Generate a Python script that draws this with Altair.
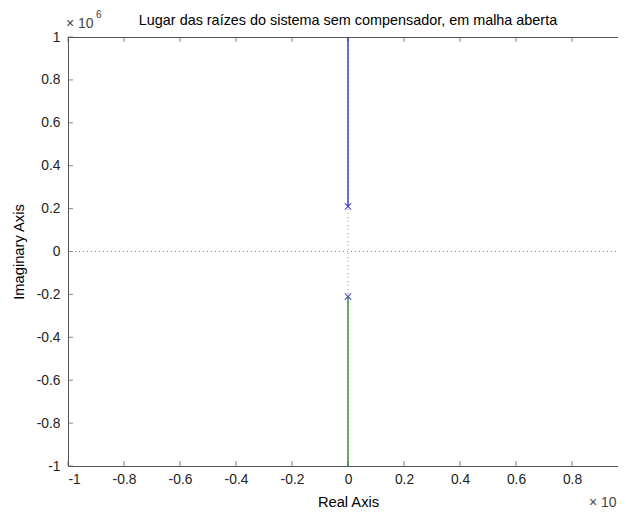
import altair as alt
import pandas as pd

# ---- data ----
x_ticks = [-1, -0.8, -0.6, -0.4, -0.2, 0, 0.2, 0.4, 0.6, 0.8, 1]
x_labels = [-1, -0.8, -0.6, -0.4, -0.2, 0, 0.2, 0.4, 0.6, 0.8]
y_ticks = [-1, -0.8, -0.6, -0.4, -0.2, 0, 0.2, 0.4, 0.6, 0.8, 1]
branch_id = ["b1", "b1", "b2", "b2"]
branch_order = [0, 1, 0, 1]
branch_real = [0, 0, 0, 0]
branch_imag = [0.21, 1.0, -0.21, -1.0]
pole_real = [0, 0]
pole_imag = [0.21, -0.21]
zero_line = [0]
title_text = ["Lugar das raízes do sistema sem compensador, em malha aberta"]
y_exp_base = ["× 10"]
y_exp_pow = ["6"]
x_exp_base = ["× 10"]

W, H = 560, 429
FONT = "Liberation Sans"
AX = "#555555"
xs = alt.Scale(domain=[-1, 1], nice=False, zero=False)
ys = alt.Scale(domain=[-1, 1], nice=False, zero=False)
LBL = "replace(format(datum.value, '~g'), '\u2212', '-')"

df_branch = pd.DataFrame({"re": branch_real, "im": branch_imag,
                          "branch": branch_id, "ord": branch_order})
df_pole = pd.DataFrame({"re": pole_real, "im": pole_imag})
df_zero = pd.DataFrame({"z": zero_line})
df_xt = pd.DataFrame({"v": x_ticks})
df_yt = pd.DataFrame({"v": y_ticks})

lab_kw = dict(labelFont=FONT, labelFontSize=13.8, labelColor="#222222",
              titleFont=FONT, titleFontSize=14.7, titleColor="#000000",
              titleFontWeight="normal", grid=False)

x_main = alt.Axis(orient="bottom", values=x_labels, ticks=False, tickSize=0,
                  labelExpr=LBL, title="Real Axis", domainColor=AX,
                  labelPadding=6, titlePadding=9, **lab_kw)
y_main = alt.Axis(orient="left", values=y_ticks, ticks=False, tickSize=0,
                  labelExpr=LBL, title="Imaginary Axis", domainColor=AX,
                  labelPadding=8, titlePadding=10, **lab_kw)
x_top = alt.Axis(orient="top", labels=False, ticks=False, tickSize=0, domain=True,
                 domainColor=AX, title=None, grid=False)

# inward tick marks on the box edges
tk = dict(color=AX, thickness=1, size=5)
t_bot = alt.Chart(df_xt).mark_tick(**tk).encode(
    x=alt.X("v:Q", scale=xs, axis=x_main), y=alt.value(H - 2.5))
t_top = alt.Chart(df_xt).mark_tick(**tk).encode(
    x=alt.X("v:Q", scale=xs, axis=x_top), y=alt.value(2.5))
t_left = alt.Chart(df_yt).mark_tick(**tk).encode(
    y=alt.Y("v:Q", scale=ys, axis=y_main), x=alt.value(2.5))
t_right = alt.Chart(df_yt).mark_tick(**tk).encode(
    y=alt.Y("v:Q", scale=ys, axis=y_main), x=alt.value(W - 2.5))

vline = alt.Chart(df_zero).mark_rule(color="#8a8a8a", strokeDash=[1, 3],
                                     strokeWidth=1).encode(
    x=alt.X("z:Q", scale=xs, axis=None))
hline = alt.Chart(df_zero).mark_rule(color="#8a8a8a", strokeDash=[1, 3],
                                     strokeWidth=1).encode(
    y=alt.Y("z:Q", scale=ys, axis=y_main))

lines = alt.Chart(df_branch).mark_line(strokeWidth=1.3, clip=True).encode(
    x=alt.X("re:Q", scale=xs, axis=None),
    y=alt.Y("im:Q", scale=ys, axis=y_main),
    color=alt.Color("branch:N", scale=alt.Scale(domain=["b1", "b2"],
                    range=["#2323c8", "#1e8c1e"]), legend=None),
    order="ord:Q")

poles = alt.Chart(df_pole).mark_point(shape="M-1,-1L1,1M-1,1L1,-1", filled=False,
                                      size=40, strokeWidth=1.3,
                                      color="#2323c8").encode(
    x=alt.X("re:Q", scale=xs, axis=None),
    y=alt.Y("im:Q", scale=ys, axis=y_main))

title = alt.Chart(pd.DataFrame({"t": title_text})).mark_text(
    font=FONT, fontSize=14.4, color="#000000", align="center", baseline="alphabetic").encode(
    text="t:N", x=alt.value(280), y=alt.value(-12))
yexp = alt.Chart(pd.DataFrame({"t": y_exp_base})).mark_text(
    font=FONT, fontSize=14, color="#444444", align="left", baseline="alphabetic").encode(
    text="t:N", x=alt.value(-2), y=alt.value(-9))
yexp6 = alt.Chart(pd.DataFrame({"t": y_exp_pow})).mark_text(
    font=FONT, fontSize=10, color="#444444", align="left", baseline="alphabetic").encode(
    text="t:N", x=alt.value(28), y=alt.value(-19))
xexp = alt.Chart(pd.DataFrame({"t": x_exp_base})).mark_text(
    font=FONT, fontSize=14, color="#444444", align="left", baseline="alphabetic").encode(
    text="t:N", x=alt.value(521), y=alt.value(470))

chart = alt.layer(t_bot, t_top, t_left, t_right, vline, hline, lines, poles,
                  title, yexp, yexp6, xexp).resolve_axis(x="independent").properties(
    width=W, height=H,
    autosize=alt.AutoSizeParams(type="none"),
    padding={"left": 60, "top": 29, "right": -10, "bottom": 43},
    background="white",
).configure_view(stroke=None)

chart.save("out.html", embed_options={"renderer": "svg", "actions": False})
